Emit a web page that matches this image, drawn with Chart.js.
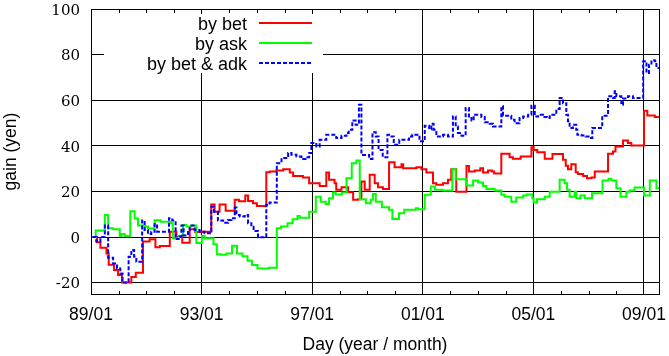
<!DOCTYPE html>
<html><head><meta charset="utf-8">
<script src="https://cdn.jsdelivr.net/npm/chart.js@4.4.1/dist/chart.umd.min.js"></script>
<style>html,body{margin:0;padding:0;background:#fff;}canvas{display:block;}</style>
</head><body>
<canvas id="c" width="669" height="356"></canvas>
<script>
// ---- data (x = decimal year, y = gain in yen), step changes ----
const seriesNames = ['by bet', 'by ask', 'by bet & adk'];
const xTickYears = [1989, 1993, 1997, 2001, 2005, 2009];
const xTickLabels = ['89/01', '93/01', '97/01', '01/01', '05/01', '09/01'];
const yTickValues = [-20, 0, 20, 40, 60, 80, 100];
const xLabel = 'Day (year / month)';
const yLabel = 'gain (yen)';

const bet = [[1989.05,0],[1989.22,-2.3],[1989.34,-4.7],[1989.56,-7.2],[1989.64,-12.2],[1989.83,-14.5],[1989.98,-16.7],[1990.12,-20.0],[1990.46,-17.5],[1990.62,-15.7],[1990.88,-2.0],[1991.12,-1.0],[1991.33,-4.5],[1991.49,-4.0],[1991.85,2.3],[1992.09,0.0],[1992.30,-2.5],[1992.57,3.4],[1992.77,2.2],[1993.05,2.3],[1993.35,14.2],[1993.47,11.1],[1993.65,14.2],[1993.87,11.5],[1994.20,16.3],[1994.35,15.7],[1994.58,18.2],[1994.68,15.8],[1994.86,14.8],[1995.00,13.6],[1995.34,28.4],[1995.46,28.7],[1995.70,29.2],[1995.95,29.7],[1996.19,28.3],[1996.31,26.8],[1996.67,26.1],[1996.89,23.6],[1997.27,22.4],[1997.51,28.3],[1997.61,25.1],[1997.81,23.6],[1997.87,20.7],[1998.06,21.8],[1998.30,19.6],[1998.48,16.3],[1998.66,16.6],[1998.78,24.3],[1998.90,20.7],[1999.08,27.3],[1999.26,23.6],[1999.38,21.8],[1999.56,21.1],[1999.78,32.8],[1999.98,30.6],[2000.23,31.9],[2000.29,30.2],[2000.77,30.6],[2000.95,29.7],[2001.13,28.3],[2001.37,23.6],[2001.49,22.9],[2001.73,23.6],[2001.91,25.1],[2002.03,29.7],[2002.21,19.9],[2002.58,31.1],[2002.67,28.7],[2002.88,29.2],[2003.08,30.2],[2003.18,28.3],[2003.36,29.2],[2003.50,28.7],[2003.58,27.9],[2003.84,36.5],[2004.14,35.0],[2004.26,34.3],[2004.54,35.3],[2004.93,39.4],[2005.01,38.2],[2005.14,37.2],[2005.41,34.3],[2005.69,36.4],[2006.07,33.9],[2006.17,31.2],[2006.25,29.7],[2006.37,31.9],[2006.53,28.4],[2006.61,27.6],[2006.80,26.8],[2006.94,25.8],[2007.10,26.1],[2007.22,28.7],[2007.70,36.5],[2007.88,37.5],[2007.97,39.7],[2008.24,42.3],[2008.42,41.2],[2008.54,40.1],[2009.00,55.4],[2009.12,53.3],[2009.39,52.6],[2009.54,52.6]];

const ask = [[1989.05,0],[1989.17,2.8],[1989.50,9.7],[1989.62,3.8],[1989.80,3.4],[1990.04,0.4],[1990.10,1.3],[1990.22,0.4],[1990.42,11.3],[1990.58,8.1],[1990.70,5.0],[1990.94,4.6],[1991.06,3.7],[1991.30,7.3],[1991.52,6.7],[1991.88,6.0],[1991.96,-0.6],[1992.18,0.4],[1992.33,5.3],[1992.45,4.6],[1992.63,5.0],[1992.81,-2.6],[1993.01,0.4],[1993.11,-0.6],[1993.43,-3.2],[1993.55,-7.6],[1993.70,-7.8],[1993.90,-7.2],[1994.10,-3.8],[1994.28,-7.2],[1994.48,-8.4],[1994.66,-10.4],[1994.82,-12.3],[1995.02,-13.8],[1995.44,-13.5],[1995.72,3.8],[1995.87,4.6],[1996.11,6.0],[1996.29,7.8],[1996.47,9.2],[1996.55,8.4],[1996.89,11.1],[1997.13,17.7],[1997.31,15.5],[1997.49,14.5],[1997.61,17.0],[1997.75,19.5],[1997.85,18.6],[1998.07,19.5],[1998.24,25.8],[1998.43,32.4],[1998.60,33.6],[1998.72,16.6],[1998.94,14.8],[1999.12,16.3],[1999.20,18.9],[1999.30,15.5],[1999.52,13.0],[1999.78,11.9],[1999.90,7.9],[2000.14,10.4],[2000.33,11.9],[2000.75,12.6],[2000.83,12.2],[2001.07,18.5],[2001.29,22.1],[2001.44,20.7],[2001.71,20.4],[2002.07,29.7],[2002.19,25.3],[2002.58,22.6],[2002.82,24.8],[2003.00,23.9],[2003.18,22.4],[2003.30,21.1],[2003.60,20.4],[2003.84,18.5],[2003.96,17.7],[2004.20,15.5],[2004.38,17.3],[2004.63,18.2],[2004.75,18.6],[2004.96,17.0],[2005.01,15.1],[2005.13,16.6],[2005.41,17.7],[2005.59,19.9],[2005.95,25.1],[2006.13,23.6],[2006.22,20.7],[2006.31,17.7],[2006.49,19.9],[2006.55,17.0],[2006.70,18.2],[2006.86,17.0],[2007.12,19.2],[2007.50,24.8],[2007.72,25.5],[2007.82,24.8],[2008.00,21.4],[2008.15,17.7],[2008.36,19.9],[2008.48,20.4],[2008.66,21.7],[2009.00,18.2],[2009.21,24.8],[2009.45,21.4],[2009.54,21.4]];

const adk = [[1989.05,0],[1989.19,-2.0],[1989.34,0],[1989.50,5.0],[1989.62,-9.1],[1989.80,-11.6],[1989.94,-13.8],[1990.06,-16.0],[1990.14,-20.0],[1990.36,-8.7],[1990.46,-5.7],[1990.56,-8.7],[1990.64,-10.9],[1990.85,7.2],[1990.94,3.1],[1991.06,1.3],[1991.18,2.3],[1991.30,5.7],[1991.39,2.3],[1991.82,8.2],[1991.94,7.2],[1992.06,-0.9],[1992.21,0.2],[1992.27,5.0],[1992.35,0.7],[1992.51,3.1],[1992.57,5.0],[1992.75,3.1],[1992.93,2.3],[1993.11,1.6],[1993.35,13.3],[1993.45,11.1],[1993.59,7.2],[1993.78,6.3],[1993.96,7.5],[1994.08,8.2],[1994.20,12.9],[1994.26,9.7],[1994.38,9.0],[1994.56,9.7],[1994.68,6.0],[1994.80,4.5],[1994.88,2.6],[1995.04,-0.1],[1995.34,14.1],[1995.46,15.1],[1995.72,32.4],[1995.89,34.6],[1996.13,36.8],[1996.25,36.1],[1996.43,35.3],[1996.61,34.2],[1996.76,35.0],[1996.89,36.8],[1996.97,41.2],[1997.15,39.7],[1997.27,42.6],[1997.51,44.8],[1997.87,43.4],[1998.06,44.4],[1998.24,45.6],[1998.32,47.0],[1998.45,51.1],[1998.57,49.2],[1998.69,58.0],[1998.78,36.0],[1999.06,34.2],[1999.18,45.9],[1999.30,44.1],[1999.40,38.2],[1999.55,35.0],[1999.72,44.8],[1999.82,44.1],[1999.95,40.5],[2000.15,42.6],[2000.50,44.1],[2000.62,44.8],[2000.88,42.0],[2001.07,48.8],[2001.23,47.3],[2001.31,49.7],[2001.39,47.0],[2001.49,44.1],[2001.73,44.8],[2001.91,44.1],[2002.09,52.9],[2002.19,48.5],[2002.27,45.6],[2002.40,44.4],[2002.55,56.6],[2002.67,52.9],[2002.76,51.1],[2002.84,53.6],[2003.12,52.6],[2003.24,50.3],[2003.42,49.7],[2003.54,48.5],[2003.84,57.3],[2003.90,53.2],[2004.20,51.4],[2004.32,49.9],[2004.50,52.2],[2004.63,52.9],[2004.81,53.6],[2004.93,57.6],[2005.05,52.9],[2005.17,53.6],[2005.35,52.6],[2005.49,52.2],[2005.59,53.6],[2005.83,56.1],[2005.95,61.0],[2006.07,58.7],[2006.19,53.6],[2006.25,50.8],[2006.31,47.8],[2006.43,49.2],[2006.55,47.0],[2006.59,44.8],[2006.74,44.5],[2006.89,44.1],[2007.04,43.4],[2007.13,47.8],[2007.28,47.8],[2007.49,53.2],[2007.70,61.7],[2007.88,61.0],[2007.94,63.9],[2008.00,61.7],[2008.18,58.0],[2008.24,60.7],[2008.42,61.7],[2008.60,61.0],[2008.97,77.1],[2009.09,71.9],[2009.18,75.6],[2009.27,77.5],[2009.39,77.1],[2009.45,74.1],[2009.54,74.1]];

const toPts = arr => arr.map(([x, y]) => ({x, y}));

const SANS = '"Liberation Sans", Arial, sans-serif';
const SERIF = '"DejaVu Serif", serif';

const frame = {
  id: 'frame',
  beforeDatasetsDraw(chart) {
    const ctx = chart.ctx;
    ctx.save();
    ctx.fillStyle = '#fff';
    ctx.fillRect(104, 14, 219, 59);
    ctx.restore();
  },
  afterDatasetsDraw(chart) {
    const {ctx, chartArea: a, scales: {x}} = chart;
    ctx.save();
    ctx.strokeStyle = '#000';
    ctx.lineWidth = 1;
    ctx.setLineDash([]);
    ctx.strokeRect(a.left + 0.5, a.top + 0.5, a.right - a.left, a.bottom - a.top);
    ctx.beginPath();
    for (let yr = 1990; yr <= 2009; yr++) {
      if (xTickYears.includes(yr)) continue;
      const px = Math.round(x.getPixelForValue(yr)) + 0.5;
      ctx.moveTo(px, a.top); ctx.lineTo(px, a.top + 4);
      ctx.moveTo(px, a.bottom + 1); ctx.lineTo(px, a.bottom - 3);
    }
    ctx.stroke();
    // legend
    ctx.font = '18px ' + SANS;
    ctx.textAlign = 'right';
    ctx.textBaseline = 'alphabetic';
    chart.data.datasets.forEach((ds, i) => {
      const yy = 23 + i * 20;
      ctx.fillStyle = '#000';
      ctx.fillText(ds.label, 247, yy + 6.5);
      ctx.strokeStyle = ds.borderColor;
      ctx.lineWidth = 2;
      ctx.setLineDash(ds.borderDash || []);
      ctx.beginPath();
      ctx.moveTo(259, yy); ctx.lineTo(312, yy);
      ctx.stroke();
    });
    ctx.restore();
  }
};

new Chart(document.getElementById('c'), {
  type: 'line',
  data: {
    datasets: [
      {label: seriesNames[0], data: toPts(bet), borderColor: '#ff0000', order: 3},
      {label: seriesNames[1], data: toPts(ask), borderColor: '#00ff00', order: 2},
      {label: seriesNames[2], data: toPts(adk), borderColor: '#0000ff', borderDash: [4, 2], order: 1}
    ].map(d => Object.assign({borderWidth: 2, stepped: true, pointRadius: 0, fill: false, tension: 0}, d))
  },
  options: {
    responsive: false,
    animation: false,
    devicePixelRatio: 1,
    layout: {padding: {top: 9, right: 10, left: 0, bottom: 0}},
    plugins: {legend: {display: false}, tooltip: {enabled: false}},
    scales: {
      x: {
        type: 'linear', min: 1989, max: 2009.543,
        afterBuildTicks: s => { s.ticks = xTickYears.map(v => ({value: v})); },
        afterFit: s => { s.height = 62; s.paddingLeft = 0; s.paddingRight = 0; },
        grid: {color: '#000', lineWidth: 1, drawTicks: false},
        border: {display: false},
        ticks: {autoSkip: false, maxRotation: 0, padding: 11, color: '#000',
          font: {family: SANS, size: 17.5},
          callback: (v, i) => xTickLabels[i]},
        title: {display: true, text: xLabel, color: '#000', font: {family: SANS, size: 17.5},
          padding: {top: 0, bottom: 0}}
      },
      y: {
        type: 'linear', min: -25, max: 100,
        afterBuildTicks: s => { s.ticks = yTickValues.map(v => ({value: v})); },
        afterFit: s => { s.width = 91; s.paddingTop = 0; s.paddingBottom = 0; },
        grid: {color: '#000', lineWidth: 1, drawTicks: false},
        border: {display: false},
        ticks: {padding: 11, labelOffset: 2, color: '#000', font: {family: SERIF, size: 15},
          callback: v => String(v)},
        title: {display: true, text: yLabel, color: '#000', font: {family: SANS, size: 17.5},
          padding: {top: 1, bottom: 0}}
      }
    }
  },
  plugins: [frame]
});
</script>
</body></html>
